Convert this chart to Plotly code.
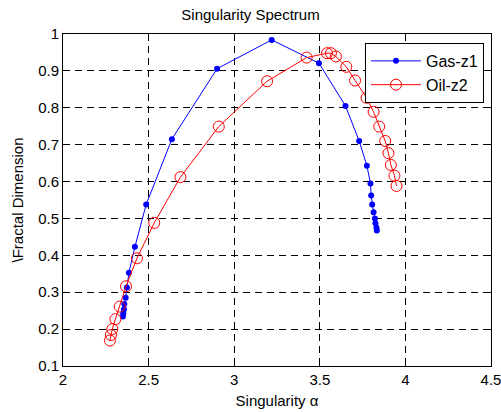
import plotly.graph_objects as go

gas_x = [2.350, 2.352, 2.356, 2.358, 2.366, 2.373, 2.385, 2.420, 2.486, 2.636, 2.900, 3.219,
         3.495, 3.650, 3.730, 3.775, 3.796, 3.800, 3.806, 3.814, 3.822, 3.825, 3.831, 3.833]
gas_y = [0.234, 0.243, 0.254, 0.268, 0.285, 0.313, 0.353, 0.423, 0.538, 0.715, 0.906, 0.984,
         0.921, 0.805, 0.710, 0.643, 0.595, 0.562, 0.538, 0.517, 0.500, 0.487, 0.475, 0.467]

oil_x = [2.274, 2.280, 2.288, 2.306, 2.331, 2.368, 2.432, 2.533, 2.686, 2.910, 3.192, 3.423,
         3.542, 3.565, 3.594, 3.655, 3.706, 3.773, 3.814, 3.847, 3.882, 3.901, 3.915, 3.936, 3.948]
oil_y = [0.169, 0.184, 0.200, 0.227, 0.261, 0.316, 0.392, 0.488, 0.612, 0.749, 0.872, 0.936,
         0.948, 0.948, 0.939, 0.911, 0.874, 0.827, 0.789, 0.749, 0.710, 0.677, 0.645, 0.616, 0.588]

x_ticks = [2, 2.5, 3, 3.5, 4, 4.5]
y_ticks = [0.1, 0.2, 0.3, 0.4, 0.5, 0.6, 0.7, 0.8, 0.9, 1]

FONT = "Liberation Sans, Arial, Helvetica, sans-serif"

fig = go.Figure()
fig.add_trace(go.Scatter(
    x=gas_x, y=gas_y, mode="lines+markers", name="Gas-z1",
    line=dict(color="blue", width=1),
    marker=dict(symbol="circle", size=6, color="blue"),
))
fig.add_trace(go.Scatter(
    x=oil_x, y=oil_y, mode="lines+markers", name="Oil-z2",
    line=dict(color="red", width=1),
    marker=dict(symbol="circle-open", size=11, color="red", line=dict(width=1, color="red")),
))

axis_common = dict(
    showline=True, linecolor="black", linewidth=1, mirror="ticks",
    ticks="inside", ticklen=5, tickcolor="black",
    showgrid=True, gridcolor="black", gridwidth=0.7, griddash="7px,5px",
    zeroline=False, automargin=False, ticklabeloverflow="allow",
    tickfont=dict(family=FONT, size=15, color="black"),
)

fig.update_xaxes(range=[2, 4.5], tickvals=x_ticks, ticktext=[str(v) for v in x_ticks],
                 title=dict(text="Singularity α", font=dict(family=FONT, size=15, color="black"), standoff=8),
                 **axis_common)
fig.update_yaxes(range=[0.1, 1], tickvals=y_ticks, ticktext=[("%g" % v) for v in y_ticks],
                 title=dict(text="\\Fractal Dimension", font=dict(family=FONT, size=15, color="black"), standoff=10),
                 **axis_common)

fig.update_layout(
    width=501, height=412,
    margin=dict(l=63, r=10, t=34, b=46),
    paper_bgcolor="white", plot_bgcolor="white",
    title=dict(text="Singularity Spectrum", x=0.5, xanchor="center", y=0.963, yanchor="middle",
               font=dict(family=FONT, size=15, color="black"), automargin=False),
    showlegend=True,
    legend=dict(x=0.9836, xanchor="right", y=0.973, yanchor="top",
                bgcolor="white", bordercolor="black", borderwidth=1,
                font=dict(family=FONT, size=16, color="black"),
                itemwidth=50, tracegroupgap=0),
    font=dict(family=FONT, color="black"),
)

fig.write_html("out.html", config={"displayModeBar": False},
               post_script="document.body.style.margin='0px';document.body.style.overflow='hidden';")
